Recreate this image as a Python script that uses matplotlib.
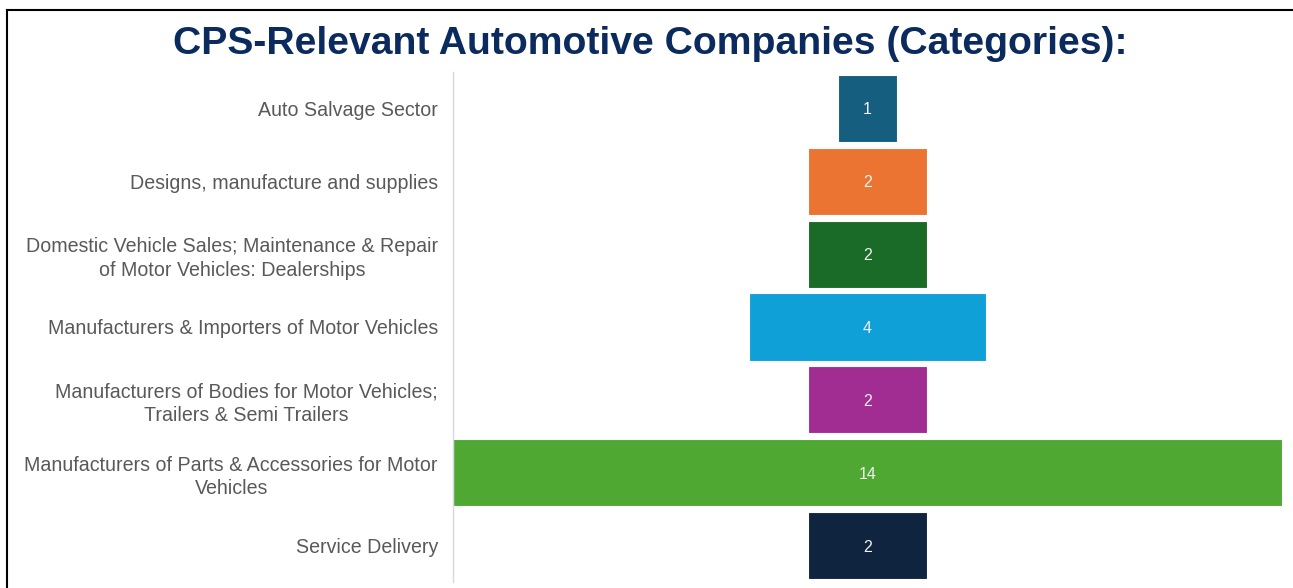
import matplotlib
matplotlib.use("Agg")
import matplotlib.pyplot as plt
from matplotlib.lines import Line2D

plt.rcParams['font.family'] = ['Liberation Sans', 'DejaVu Sans']

categories = [
    "Auto Salvage Sector",
    "Designs, manufacture and supplies",
    "Domestic Vehicle Sales; Maintenance & Repair\nof Motor Vehicles: Dealerships",
    "Manufacturers & Importers of Motor Vehicles",
    "Manufacturers of Bodies for Motor Vehicles;\nTrailers & Semi Trailers",
    "Manufacturers of Parts & Accessories for Motor\nVehicles",
    "Service Delivery",
]
counts = [1, 2, 2, 4, 2, 14, 2]
colors = ["#165E80", "#EB7433", "#1A6B27", "#10A0D8", "#A12D93", "#4FA832", "#0F253F"]

fig = plt.figure(figsize=(12.93, 5.88), dpi=100)
ax = fig.add_axes([0.3503, 0.0102, 0.9915 - 0.3503, 0.8776 - 0.0102])

ypos = list(range(len(categories)))
lefts = [-c / 2 for c in counts]
ax.barh(ypos, counts, left=lefts, height=0.92, color=colors,
        edgecolor="white", linewidth=0.8)

for y, c in zip(ypos, counts):
    ax.text(0, y, str(c), ha="center", va="center_baseline", color="#F2F2F2", fontsize=11.5)

ax.set_xlim(-7, 7)
ax.set_ylim(len(categories) - 0.5, -0.5)
ax.set_yticks(ypos)
ax.set_yticklabels(categories, color="#595959", fontsize=14.1,
                   multialignment="center", linespacing=1.3)
ax.tick_params(axis="y", length=0, pad=10.8)
ax.set_xticks([])
for s in ["top", "right", "bottom"]:
    ax.spines[s].set_visible(False)
ax.spines["left"].set_color("#D9D9D9")
ax.spines["left"].set_linewidth(1)

fig.text(0.503, 0.925, "CPS-Relevant Automotive Companies (Categories):",
         ha="center", va="center", fontsize=28.2, fontweight="bold", color="#0B2A5E")

# outer frame (top and left edges)
fig.add_artist(Line2D([7 / 1293, 1], [1 - 10 / 588, 1 - 10 / 588],
                      transform=fig.transFigure, color="black", linewidth=1.5))
fig.add_artist(Line2D([7 / 1293, 7 / 1293], [0, 1 - 10 / 588],
                      transform=fig.transFigure, color="black", linewidth=1.5))

fig.savefig("out.png", dpi=100)
